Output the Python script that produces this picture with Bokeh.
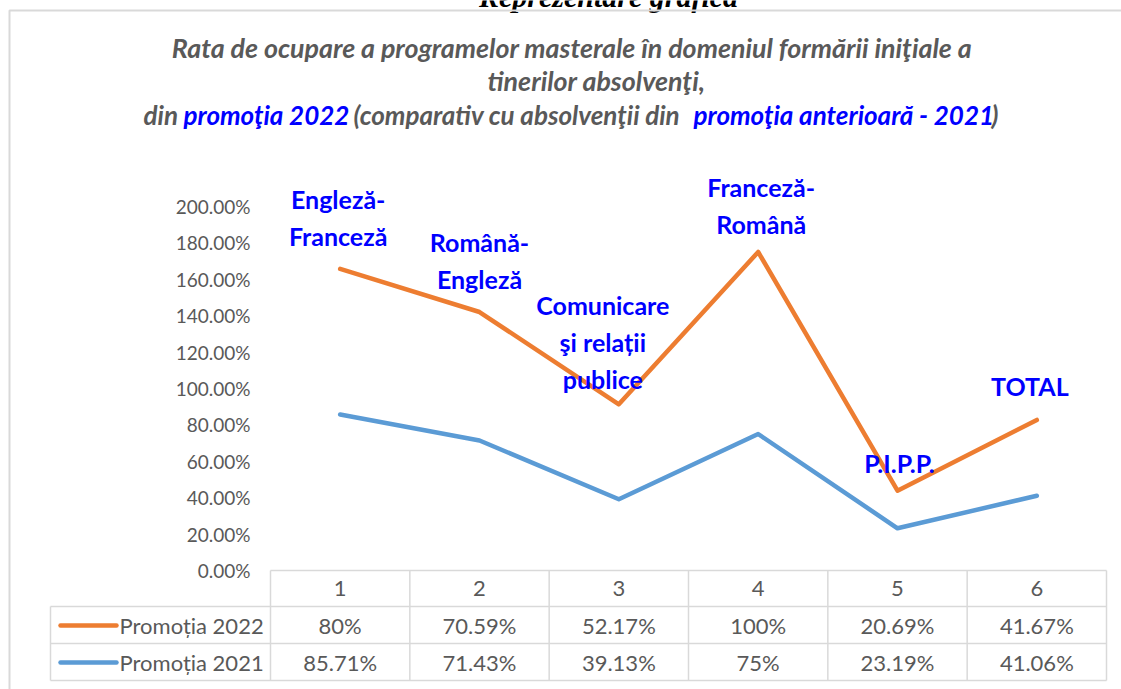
from bokeh.plotting import figure
from bokeh.models import Range1d
from bokeh.core.properties import value
from bokeh.embed import file_html
from bokeh.resources import INLINE

# ---------------- DATA ----------------
categories = [1, 2, 3, 4, 5, 6]
cat_labels = ["1", "2", "3", "4", "5", "6"]
programs = ["Engleză-\nFranceză", "Română-\nEngleză", "Comunicare\nşi relații\npublice",
            "Franceză-\nRomână", "P.I.P.P.", "TOTAL"]
series_names = ["Promoția 2022", "Promoția 2021"]
promotia_2022 = [80, 70.59, 52.17, 100, 20.69, 41.67]
promotia_2021 = [85.71, 71.43, 39.13, 75, 23.19, 41.06]
y_ticks = [0, 20, 40, 60, 80, 100, 120, 140, 160, 180, 200]
page_heading = "Reprezentare grafică"
title_line1 = "Rata de ocupare a programelor masterale în domeniul formării iniţiale a"
title_line2 = "tinerilor absolvenţi,"
title_line3_parts = ["din", "promoţia 2022", "(comparativ cu absolvenţii din", "promoţia anterioară - 2021", ")"]

# stacked line chart (Excel "stacked line"): 2022 series is drawn on top of 2021
stacked_2022 = [a + b for a, b in zip(promotia_2022, promotia_2021)]

# ---------------- LAYOUT (page pixel geometry) ----------------
W, H = 1121, 689
CAT_LEFT = 270.0
CAT_W = (1106.0 - 270.0) / 6
ZERO_Y = 570.0
PX_PER_PCT = (570.0 - 206.0) / 200.0

def xd(px):
    return 0.5 + (px - CAT_LEFT) / CAT_W

def yd(py):
    return (ZERO_Y - py) / PX_PER_PCT

GRAY = "#595959"
BLUE = "#0000FF"
ORANGE = "#ED7D31"
LBLUE = "#5B9BD5"
GRID = "#D9D9D9"
FONT = value("Lato")

p = figure(width=W, height=H, x_range=Range1d(xd(0), xd(W)), y_range=Range1d(yd(H), yd(0)),
           output_backend="svg", toolbar_location=None, x_axis_type=None, y_axis_type=None,
           min_border=0)
p.grid.visible = False
p.outline_line_color = None
p.background_fill_color = "white"
p.border_fill_color = "white"

# heading of the page, cut off at the top (as in the source document)
p.text(x=[xd(608)], y=[yd(-4)], text=[page_heading], text_font=value("Liberation Serif"),
       text_font_style="bold italic", text_font_size="30px", text_color="black",
       text_align="center", text_baseline="alphabetic")

# chart border (top and left edge visible)
p.line(x=[xd(9), xd(9), xd(1130)], y=[yd(700), yd(10), yd(10)], line_color=GRID, line_width=2)

# title
p.text(x=[xd(571.5)], y=[yd(47)], text=[title_line1], text_font=FONT,
       text_font_style="bold italic", text_font_size="26.8px", text_color=GRAY,
       text_align="center", text_baseline="middle")
p.text(x=[xd(705)], y=[yd(80)], text=[title_line2], text_font=FONT,
       text_font_style="bold italic", text_font_size="26.8px", text_color=GRAY,
       text_align="right", text_baseline="middle")
part_x = [143, 183, 353, 693, 991]
part_col = [GRAY, BLUE, GRAY, BLUE, GRAY]
for t, px, c in zip(title_line3_parts, part_x, part_col):
    p.text(x=[xd(px)], y=[yd(114)], text=[t], text_font=FONT, text_font_style="bold italic",
           text_font_size="26px", text_color=c, text_align="left", text_baseline="middle")

# y tick labels
p.text(x=[xd(250)] * len(y_ticks), y=y_ticks, text=["%.2f%%" % v for v in y_ticks],
       text_font=FONT, text_font_size="19px", text_color=GRAY, text_align="right",
       text_baseline="middle")

# lines
p.line(x=categories, y=promotia_2021, line_color=LBLUE, line_width=4.5,
       line_cap="round", line_join="round")
p.line(x=categories, y=stacked_2022, line_color=ORANGE, line_width=4.5,
       line_cap="round", line_join="round")

# data labels (program names)
lab_dx = [-2, 0, -16, 3, 2, -7]
lab_dy = [-18, -18, -10, -13, -13, -19]
for xi, yi, t, dx, dy in zip(categories, stacked_2022, programs, lab_dx, lab_dy):
    p.text(x=[xi], y=[yi], text=[t], text_font=FONT, text_font_style="bold",
           text_font_size="25px", text_color=BLUE, text_align="center",
           text_baseline="bottom", text_line_height=1.24, x_offset=dx, y_offset=dy)

# data table grid
bounds = [c - 0.5 for c in categories] + [categories[-1] + 0.5]
p.segment(x0=[bounds[0]], y0=[0], x1=[bounds[-1]], y1=[0], line_color=GRID, line_width=1.5)
for py in (606, 643, 680):
    p.segment(x0=[xd(50)], y0=[yd(py)], x1=[bounds[-1]], y1=[yd(py)], line_color=GRID, line_width=1.5)
p.segment(x0=bounds, y0=[0] * len(bounds), x1=bounds, y1=[yd(680)] * len(bounds),
          line_color=GRID, line_width=1.5)
p.segment(x0=[xd(50)], y0=[yd(606)], x1=[xd(50)], y1=[yd(680)], line_color=GRID, line_width=1.5)

# header row
p.text(x=categories, y=[yd(588)] * 6, text=cat_labels, text_font=FONT, text_font_size="22px",
       text_color=GRAY, text_align="center", text_baseline="middle")

# series rows
row_y = [yd(625), yd(662)]
row_vals = [promotia_2022, promotia_2021]
row_cols = [ORANGE, LBLUE]
for ry, vals, col, name in zip(row_y, row_vals, row_cols, series_names):
    p.line(x=[xd(60), xd(116)], y=[ry, ry], line_color=col, line_width=4.5, line_cap="round")
    p.text(x=[xd(119)], y=[ry], text=[name], text_font=FONT, text_font_size="22px",
           text_color=GRAY, text_align="left", text_baseline="middle")
    p.text(x=categories, y=[ry] * 6, text=["%g%%" % v for v in vals], text_font=FONT,
           text_font_size="22px", text_color=GRAY, text_align="center", text_baseline="middle")

open("out.html", "w").write(file_html(p, INLINE))
